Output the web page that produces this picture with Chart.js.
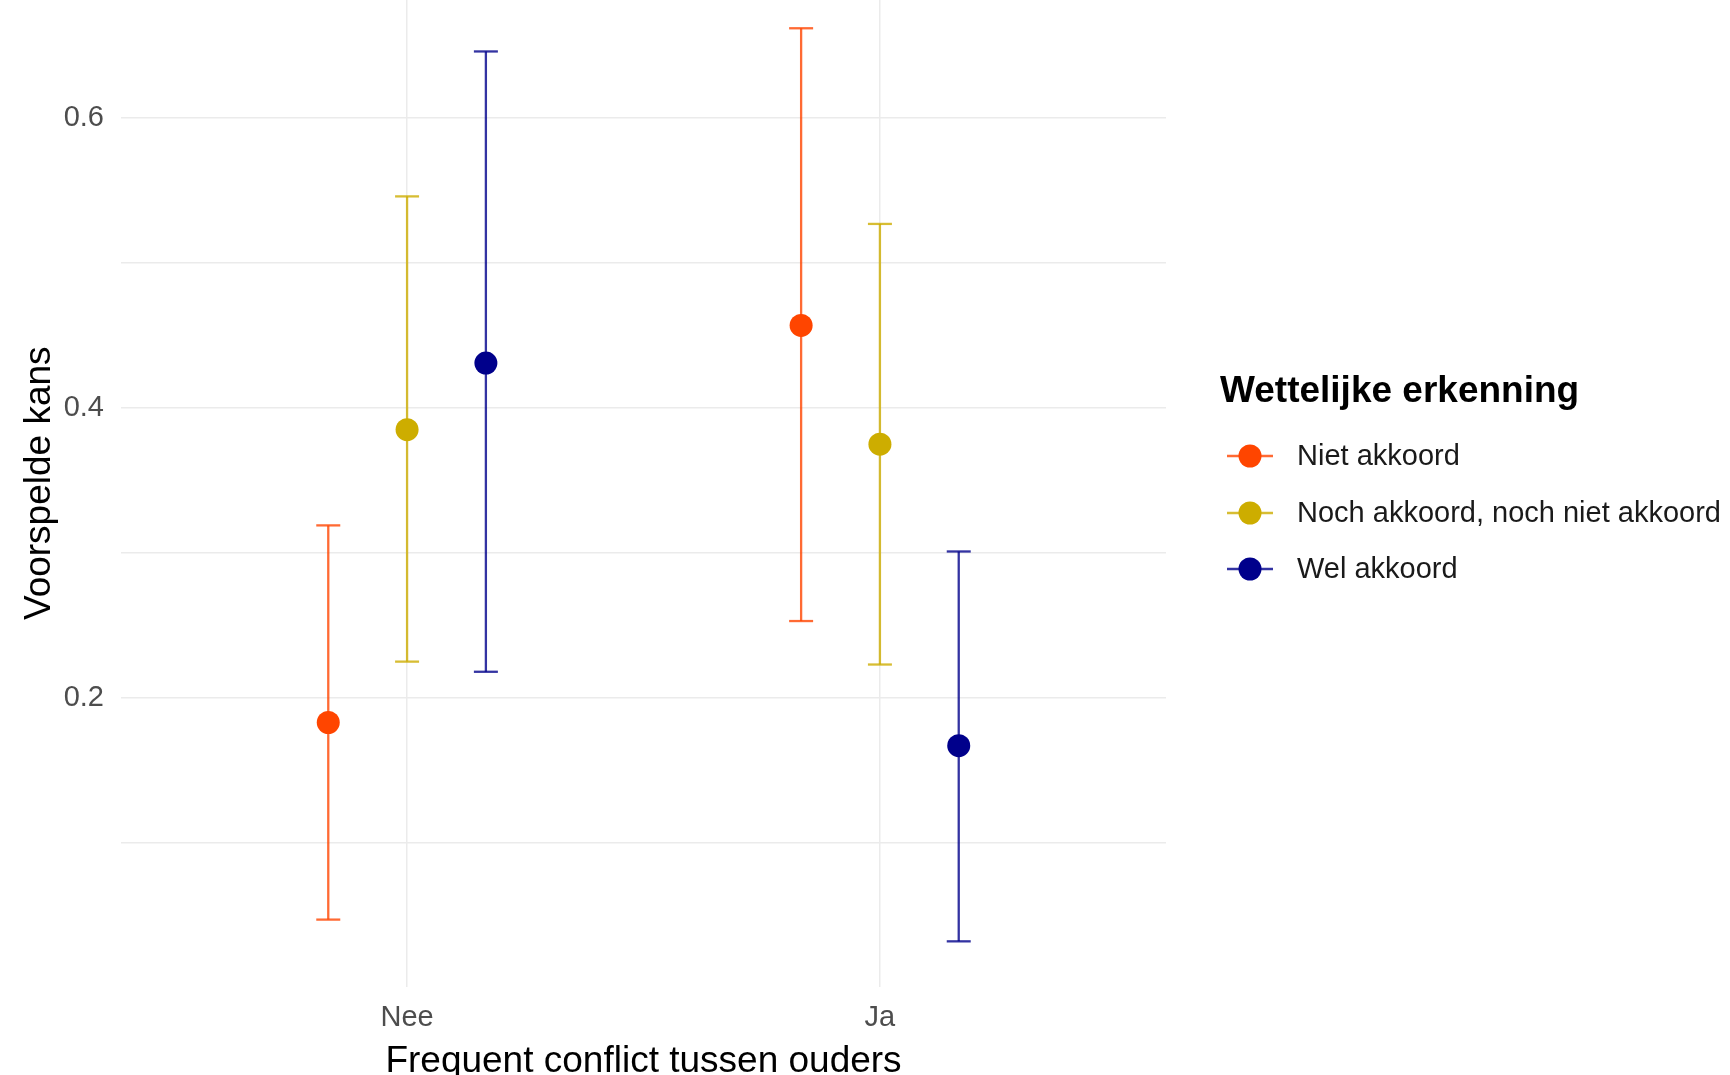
<!DOCTYPE html>
<html>
<head>
<meta charset="utf-8">
<script src="https://cdn.jsdelivr.net/npm/chart.js@4"></script>
<style>
	html, body { margin: 0; padding: 0; background: #fff; }
	#wrap { width: 1730px; height: 1075px; position: relative; }
</style>
</head>
<body>
<div id="wrap"><canvas id="plot"></canvas></div>
<script>
// categories on the x axis
var categories = ['Nee', 'Ja'];
// legend groups
var groups = ['Niet akkoord', 'Noch akkoord, noch niet akkoord', 'Wel akkoord'];
var groupColors = ['255,69,0', '205,173,0', '0,0,139'];

// predicted probabilities (point) and interval bounds, per group, [Nee, Ja]
var nietEst = [0.183, 0.457],
	nietLow = [0.047, 0.253],
	nietHigh = [0.319, 0.662];
var nochEst = [0.385, 0.375],
	nochLow = [0.225, 0.223],
	nochHigh = [0.546, 0.527];
var welEst = [0.431, 0.167],
	welLow = [0.218, 0.032],
	welHigh = [0.646, 0.301];

var yTicks = [0.1, 0.2, 0.3, 0.4, 0.5, 0.6],
	yTickLabels = ['', '0.2', '', '0.4', '', '0.6'];

var est = [nietEst, nochEst, welEst],
	low = [nietLow, nochLow, welLow],
	high = [nietHigh, nochHigh, welHigh];
var dodge = [-1/6, 0, 1/6];

var FONT = '"Liberation Sans", Arial, sans-serif';

var datasets = [];
// points first so they sit on top
groups.forEach((g, i) => {
	datasets.push({
		type: 'scatter',
		label: g,
		data: categories.map((c, j) => ({x: j + 1 + dodge[i], y: est[i][j]})),
		pointStyle: 'circle',
		pointRadius: 11.5,
		pointBorderWidth: 0,
		backgroundColor: 'rgb(' + groupColors[i] + ')',
		order: 0
	});
});
// error bars: one two-point line per bar, caps via pointStyle 'line'
groups.forEach((g, i) => {
	categories.forEach((c, j) => {
		datasets.push({
			type: 'line',
			label: g + ' ' + c,
			data: [
				{x: j + 1 + dodge[i], y: low[i][j]},
				{x: j + 1 + dodge[i], y: high[i][j]}
			],
			borderColor: 'rgba(' + groupColors[i] + ',0.8)',
			borderWidth: 2.3,
			pointStyle: 'line',
			pointRadius: 12,
			pointBorderWidth: 2.3,
			pointBorderColor: 'rgba(' + groupColors[i] + ',0.8)',
			fill: false,
			order: 1
		});
	});
});

const legendPlugin = {
	id: 'sideLegend',
	afterDraw(chart) {
		const ctx = chart.ctx;
		ctx.save();
		ctx.fillStyle = '#000';
		ctx.font = 'bold 37px ' + FONT;
		ctx.textBaseline = 'middle';
		ctx.textAlign = 'left';
		ctx.fillText('Wettelijke erkenning', 1220, 392);
		var rows = [456, 513, 569];
		groups.forEach((g, i) => {
			let y = rows[i];
			ctx.strokeStyle = 'rgba(' + groupColors[i] + ',0.8)';
			ctx.lineWidth = 2.3;
			ctx.beginPath();
			ctx.moveTo(1227, y);
			ctx.lineTo(1273, y);
			ctx.stroke();
			ctx.fillStyle = 'rgb(' + groupColors[i] + ')';
			ctx.beginPath();
			ctx.arc(1250, y, 11.5, 0, Math.PI * 2);
			ctx.fill();
			ctx.fillStyle = '#1a1a1a';
			ctx.font = '29px ' + FONT;
			ctx.fillText(g, 1297, y + 1);
		});
		ctx.restore();
	}
};

const plot = new Chart(document.getElementById('plot').getContext('2d'), {
	data: { datasets: datasets },
	options: {
		responsive: true,
		maintainAspectRatio: false,
		animation: false,
		layout: { autoPadding: false, padding: { left: 0, right: 564, top: 0, bottom: 0 } },
		plugins: {
			legend: { display: false },
			tooltip: { enabled: false }
		},
		scales: {
			x: {
				type: 'linear',
				min: 0.395,
				max: 2.605,
				afterBuildTicks: (s) => { s.ticks = categories.map((c, j) => ({value: j + 1})); },
				afterFit: (s) => { s.height = 88; s.paddingLeft = 0; s.paddingRight = 0; },
				border: { display: false },
				grid: { color: '#EBEBEB', lineWidth: 1.5, drawTicks: false },
				ticks: {
					autoSkip: false,
					maxRotation: 0,
					padding: 14,
					color: '#4D4D4D',
					font: { family: FONT, size: 29 },
					callback: (v) => categories[Math.round(v) - 1]
				},
				title: {
					display: true,
					text: 'Frequent conflict tussen ouders',
					color: '#000',
					font: { family: FONT, size: 37, lineHeight: 1 },
					padding: { top: 0, bottom: -5.5 }
				}
			},
			y: {
				min: 0.0005,
				max: 0.6815,
				afterBuildTicks: (s) => { s.ticks = yTicks.map(v => ({value: v})); },
				afterFit: (s) => { s.width = 121; s.paddingTop = 0; s.paddingBottom = 0; },
				border: { display: false },
				grid: { color: '#EBEBEB', lineWidth: 1.5, drawTicks: false },
				ticks: {
					autoSkip: false,
					padding: 17,
					color: '#4D4D4D',
					font: { family: FONT, size: 29 },
					callback: (v) => {
						let k = yTicks.findIndex(t => Math.abs(t - v) < 1e-6);
						return k < 0 ? '' : yTickLabels[k];
					}
				},
				title: {
					display: true,
					text: '  Voorspelde kans',
					color: '#000',
					font: { family: FONT, size: 37, lineHeight: 1 },
					padding: { top: 21, bottom: 0 }
				}
			}
		}
	},
	plugins: [legendPlugin]
});
</script>
</body>
</html>
